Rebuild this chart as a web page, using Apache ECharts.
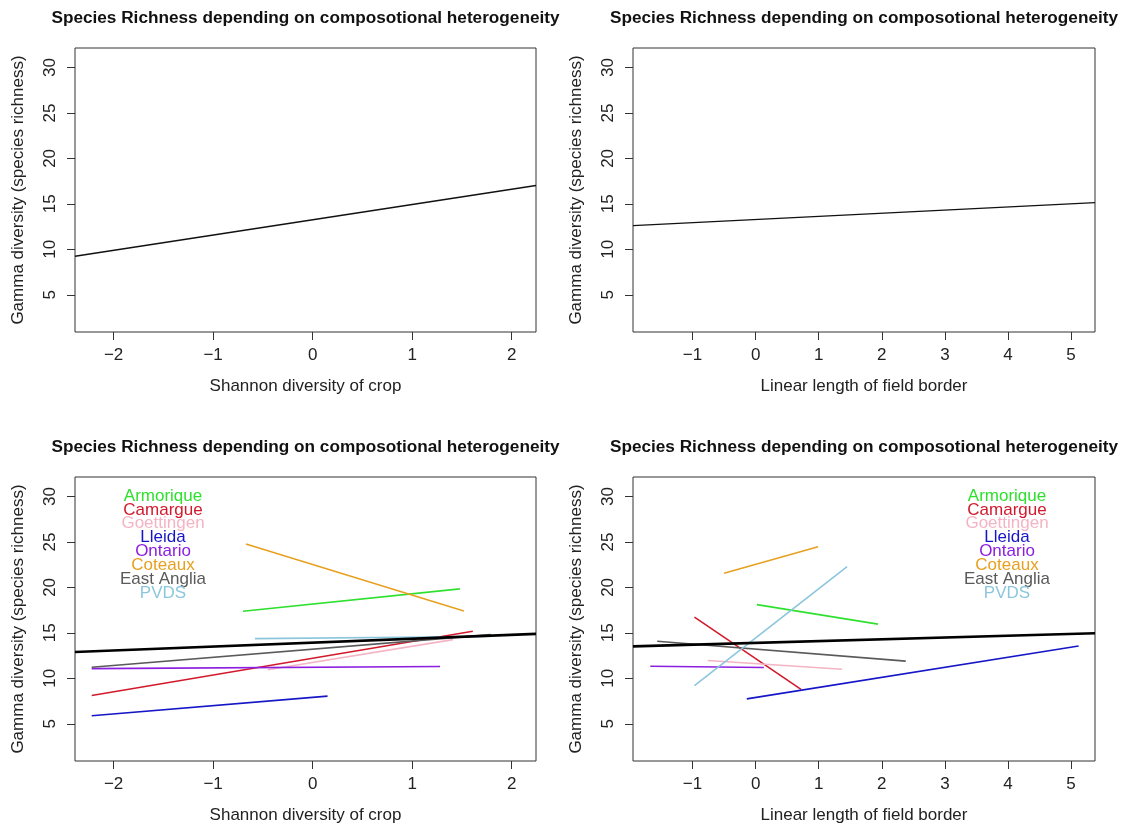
<!DOCTYPE html>
<html><head><meta charset="utf-8">
<script src="https://cdn.jsdelivr.net/npm/echarts@6/dist/echarts.min.js"></script>
<style>html,body{margin:0;padding:0;background:#fff}#c{width:1123px;height:828px}</style>
</head><body><div id="c"></div><script>
// ---------------- data ----------------
const sites = ['Armorique','Camargue','Goettingen','Lleida','Ontario','Coteaux','East Anglia','PVDS'];
// per-site fitted lines: [xStart, yStart, xEnd, yEnd]
const shannonSiteLines = [
  [-0.70, 17.37, 1.48, 19.84],
  [-2.22, 8.11, 1.61, 15.17],
  [-0.45, 10.95, 1.41, 14.26],
  [-2.22, 5.89, 0.15, 8.04],
  [-2.22, 11.07, 1.28, 11.30],
  [-0.67, 24.78, 1.52, 17.40],
  [-2.22, 11.22, 1.79, 14.81],
  [-0.58, 14.37, 1.75, 14.60]
];
const borderSiteLines = [
  [0.02, 18.11, 1.94, 15.96],
  [-0.97, 16.74, 0.72, 8.78],
  [-0.76, 11.96, 1.37, 11.00],
  [-0.14, 7.74, 5.12, 13.56],
  [-1.67, 11.33, 0.13, 11.19],
  [-0.50, 21.56, 0.99, 24.48],
  [-1.56, 14.07, 2.38, 11.89],
  [-0.97, 9.19, 1.45, 22.29]
];
// overall fitted lines [x, y]
const shannonOverallTop = [[-2.388, 9.24], [2.245, 17.02]];
const borderOverallTop = [[-1.944, 12.60], [5.380, 15.14]];
const shannonOverallBottom = [[-2.388, 12.89], [2.245, 14.89]];
const borderOverallBottom = [[-1.944, 13.52], [5.380, 14.96]];
// axes
const shannonRange = [-2.388, 2.245];
const borderRange = [-1.944, 5.380];
const yRange = [0.91, 32.14];
const shannonTicks = [-2, -1, 0, 1, 2];
const borderTicks = [-1, 0, 1, 2, 3, 4, 5];
const yTicks = [5, 10, 15, 20, 25, 30];
const titleText = 'Species Richness depending on composotional heterogeneity';
const yName = 'Gamma diversity (species richness)';
const shannonName = 'Shannon diversity of crop';
const borderName = 'Linear length of field border';

// ---------------- styles ----------------
const siteColors = ['#2fe02f', '#d21a2c', '#f4b4c4', '#1616c8', '#8c1ee0', '#e8a020', '#5a5a5a', '#8cc6dc'];
const FONT = '"Liberation Sans", Arial, Helvetica, sans-serif';
const AX = '#333';
const grids = [
  {left: 75, top: 48, width: 461, height: 284},
  {left: 633, top: 48, width: 462, height: 284},
  {left: 75, top: 477, width: 461, height: 284},
  {left: 633, top: 477, width: 462, height: 284}
];
const fmt = v => String(v).replace('-', '\u2212');

function xAxis(gi, range, ticks, name) {
  return {
    type: 'value', gridIndex: gi, min: range[0], max: range[1], position: 'bottom',
    axisLine: {show: false, onZero: false}, splitLine: {show: false},
    axisTick: {show: true, inside: false, length: 8, customValues: ticks, lineStyle: {color: AX, width: 1}},
    axisLabel: {show: true, customValues: ticks, formatter: fmt, margin: 15,
      fontFamily: FONT, fontSize: 17, color: '#222'},
    name: name, nameLocation: 'middle', nameGap: 46,
    nameTextStyle: {fontFamily: FONT, fontSize: 17, color: '#222'}
  };
}
function yAxis(gi) {
  return {
    type: 'value', gridIndex: gi, min: yRange[0], max: yRange[1], position: 'left',
    axisLine: {show: false, onZero: false}, splitLine: {show: false},
    axisTick: {show: true, inside: false, length: 8, customValues: yTicks, lineStyle: {color: AX, width: 1}},
    axisLabel: {show: true, customValues: yTicks, rotate: 90, margin: 16,
      fontFamily: FONT, fontSize: 17, color: '#222'},
    name: yName, nameLocation: 'middle', nameGap: 48,
    nameTextStyle: {fontFamily: FONT, fontSize: 17, color: '#222'}
  };
}

const series = [];
function lineSeries(gi, data, color, width) {
  series.push({
    type: 'line', xAxisIndex: gi, yAxisIndex: gi, data: data,
    symbol: 'none', silent: true, animation: false,
    lineStyle: {color: color, width: width}
  });
}
lineSeries(0, shannonOverallTop, '#111', 1.3);
lineSeries(1, borderOverallTop, '#111', 1.3);
sites.forEach((s, i) => {
  const a = shannonSiteLines[i];
  lineSeries(2, [[a[0], a[1]], [a[2], a[3]]], siteColors[i], 1.6);
  const b = borderSiteLines[i];
  lineSeries(3, [[b[0], b[1]], [b[2], b[3]]], siteColors[i], 1.6);
});
lineSeries(2, shannonOverallBottom, '#000', 2.6);
lineSeries(3, borderOverallBottom, '#000', 2.6);

const titles = grids.map(g => ({
  text: titleText, left: g.left + g.width / 2, top: g.top - 40, textAlign: 'center', padding: 0,
  textStyle: {fontFamily: FONT, fontSize: 17.2, fontWeight: 'bold', color: '#111', lineHeight: 20}
}));

const legendGraphics = [];
[163, 1007].forEach(cx => {
  sites.forEach((s, i) => {
    legendGraphics.push({
      type: 'text', x: cx, y: 496 + i * 13.9, silent: true,
      style: {text: s, fill: siteColors[i], font: '17px ' + FONT, textAlign: 'center', textVerticalAlign: 'middle'}
    });
  });
});

const chart = echarts.init(document.getElementById('c'), null, {renderer: 'canvas'});
chart.setOption({
  animation: false,
  backgroundColor: '#fff',
  title: titles,
  grid: grids.map(g => Object.assign({show: true, borderColor: AX, borderWidth: 1, backgroundColor: 'transparent'}, g)),
  xAxis: [xAxis(0, shannonRange, shannonTicks, shannonName), xAxis(1, borderRange, borderTicks, borderName),
          xAxis(2, shannonRange, shannonTicks, shannonName), xAxis(3, borderRange, borderTicks, borderName)],
  yAxis: [yAxis(0), yAxis(1), yAxis(2), yAxis(3)],
  series: series,
  graphic: legendGraphics
});
</script></body></html>
